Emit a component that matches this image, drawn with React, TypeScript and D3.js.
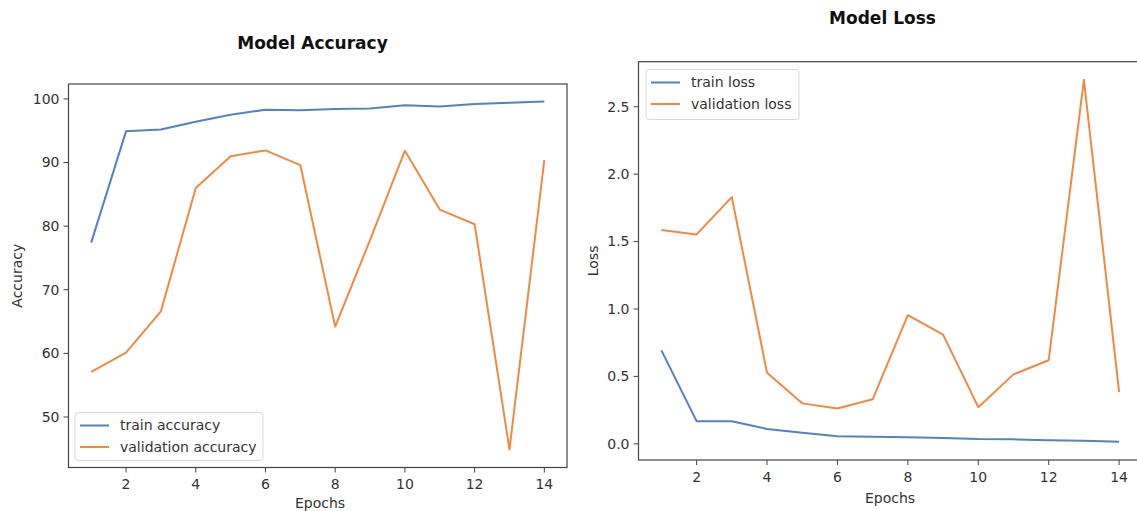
import React from "react";
import * as d3 from "d3";

const epochs = [1, 2, 3, 4, 5, 6, 7, 8, 9, 10, 11, 12, 13, 14];
const trainAccuracy = [77.4, 94.9, 95.2, 96.4, 97.5, 98.3, 98.2, 98.4, 98.5, 99.0, 98.8, 99.2, 99.4, 99.6];
const valAccuracy = [57.1, 60.1, 66.6, 86.0, 91.0, 91.9, 89.6, 64.2, 77.8, 91.85, 82.6, 80.3, 44.9, 90.4];
const trainLoss = [0.693, 0.168, 0.167, 0.11, 0.082, 0.057, 0.052, 0.048, 0.044, 0.035, 0.033, 0.026, 0.022, 0.016];
const valLoss = [1.585, 1.553, 1.83, 0.527, 0.3, 0.262, 0.33, 0.954, 0.81, 0.272, 0.515, 0.62, 2.70, 0.383];
const xTicks = [2, 4, 6, 8, 10, 12, 14];
const accTicks = [50, 60, 70, 80, 90, 100];
const lossTicks = [0, 0.5, 1.0, 1.5, 2.0, 2.5];

const BLUE = "#5480c4";
const ORANGE = "#ee8a45";
const FONT = "DejaVu Sans, sans-serif";
const TXT = "#333";
const FS = 14;

type PanelProps = {
  x0: number; x1: number; y0: number; y1: number;
  yDomain: [number, number];
  yTicks: number[];
  yFmt: (v: number) => string;
  series: { values: number[]; color: string; label: string }[];
  title: string; titleX: number; titleY: number;
  yLabel: string; yLabelX: number;
  xLabelX: number; xLabelY: number; xTickY: number;
  legend: { x: number; y: number; w: number; h: number };
};

function Panel(p: PanelProps) {
  const xs = d3.scaleLinear().domain([0.35, 14.65]).range([p.x0, p.x1]);
  const ys = d3.scaleLinear().domain(p.yDomain).range([p.y1, p.y0]);
  const line = d3.line<number>().x((_, i) => xs(epochs[i])).y((v) => ys(v));
  const clipId = "clip" + p.title.replace(/\s/g, "");
  return (
    <g>
      <defs>
        <clipPath id={clipId}>
          <rect x={p.x0} y={p.y0} width={p.x1 - p.x0} height={p.y1 - p.y0} />
        </clipPath>
      </defs>
      <g clipPath={`url(#${clipId})`}>
        {p.series.map((s) => (
          <path key={s.label} d={line(s.values) || ""} fill="none" stroke={s.color} strokeWidth={2} strokeLinejoin="round" />
        ))}
      </g>
      <rect x={p.x0} y={p.y0} width={p.x1 - p.x0} height={p.y1 - p.y0} fill="none" stroke="#444" strokeWidth={1.2} />
      {xTicks.map((t) => (
        <g key={"x" + t}>
          <line x1={xs(t)} x2={xs(t)} y1={p.y1} y2={p.y1 + 5} stroke="#444" strokeWidth={1} />
          <text x={xs(t)} y={p.xTickY} textAnchor="middle" fontFamily={FONT} fontSize={FS} fill={TXT}>{t}</text>
        </g>
      ))}
      {p.yTicks.map((t) => (
        <g key={"y" + t}>
          <line x1={p.x0 - 5} x2={p.x0} y1={ys(t)} y2={ys(t)} stroke="#444" strokeWidth={1} />
          <text x={p.x0 - 9} y={ys(t)} dy="0.35em" textAnchor="end" fontFamily={FONT} fontSize={FS} fill={TXT}>{p.yFmt(t)}</text>
        </g>
      ))}
      <text x={p.titleX} y={p.titleY} textAnchor="middle" fontFamily={FONT} fontSize={17} fontWeight="bold" fill="#111">{p.title}</text>
      <text x={p.xLabelX} y={p.xLabelY} textAnchor="middle" fontFamily={FONT} fontSize={FS} fill={TXT}>Epochs</text>
      <text transform={`translate(${p.yLabelX},${(p.y0 + p.y1) / 2}) rotate(-90)`} textAnchor="middle" fontFamily={FONT} fontSize={FS} fill={TXT}>{p.yLabel}</text>
      <g>
        <rect x={p.legend.x} y={p.legend.y} width={p.legend.w} height={p.legend.h} rx={3} fill="rgba(255,255,255,0.8)" stroke="#d8d8d8" strokeWidth={1} />
        {p.series.map((s, i) => {
          const ry = p.legend.y + 13 + i * 21.5;
          return (
            <g key={"l" + s.label}>
              <line x1={p.legend.x + 5} x2={p.legend.x + 34} y1={ry} y2={ry} stroke={s.color} strokeWidth={2} />
              <text x={p.legend.x + 45} y={ry} dy="0.35em" fontFamily={FONT} fontSize={FS} fill={TXT}>{s.label}</text>
            </g>
          );
        })}
      </g>
    </g>
  );
}

export default function App() {
  return (
    <svg width={1137} height={511} style={{ position: "absolute", left: 0, top: 0, background: "#fff" }}>
      <rect x={0} y={0} width={1137} height={511} fill="#fff" />
      <Panel
        x0={68.5} x1={567} y0={84} y1={467.5}
        yDomain={[42.06, 102.34]}
        yTicks={accTicks}
        yFmt={(v) => String(v)}
        series={[
          { values: trainAccuracy, color: BLUE, label: "train accuracy" },
          { values: valAccuracy, color: ORANGE, label: "validation accuracy" },
        ]}
        title="Model Accuracy" titleX={312.5} titleY={49}
        yLabel="Accuracy" yLabelX={22}
        xLabelX={320} xLabelY={508} xTickY={489}
        legend={{ x: 75, y: 412.5, w: 188, h: 48 }}
      />
      <Panel
        x0={638.5} x1={1142} y0={61.7} y1={460}
        yDomain={[-0.12, 2.834]}
        yTicks={lossTicks}
        yFmt={(v) => v.toFixed(1)}
        series={[
          { values: trainLoss, color: BLUE, label: "train loss" },
          { values: valLoss, color: ORANGE, label: "validation loss" },
        ]}
        title="Model Loss" titleX={882.5} titleY={24}
        yLabel="Loss" yLabelX={598}
        xLabelX={890} xLabelY={503} xTickY={482}
        legend={{ x: 646, y: 69.5, w: 153, h: 50 }}
      />
    </svg>
  );
}
